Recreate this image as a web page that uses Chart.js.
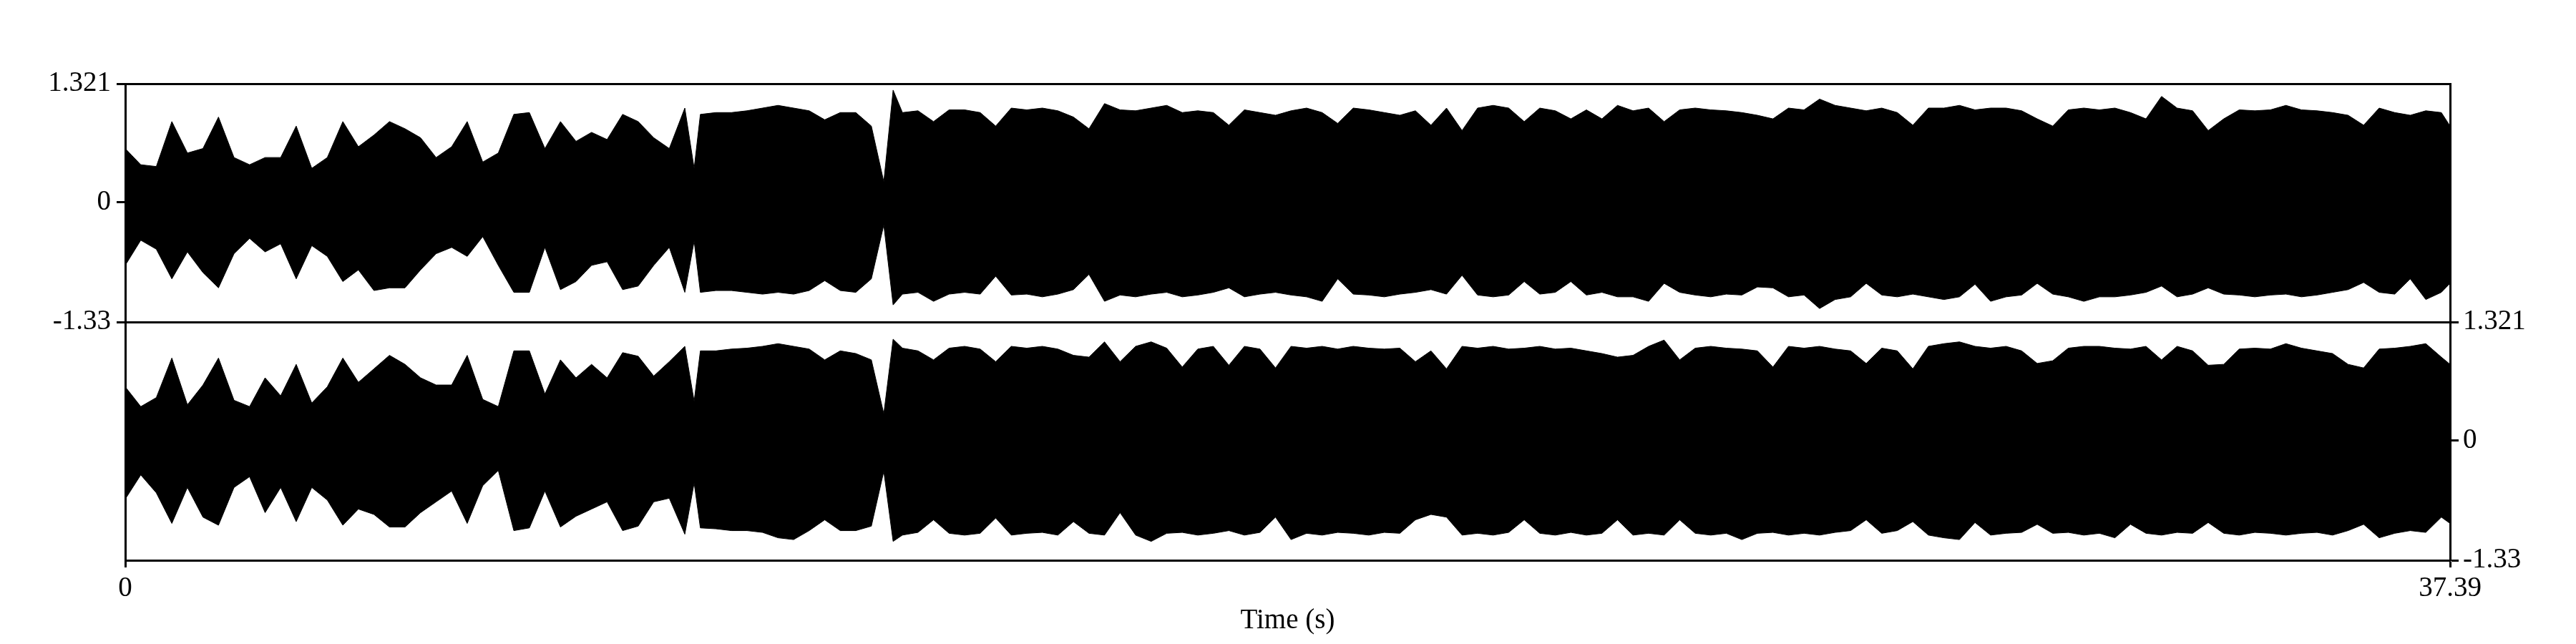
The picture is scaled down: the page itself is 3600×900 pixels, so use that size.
<!DOCTYPE html>
<html>
<head>
<meta charset="utf-8">
<script src="https://cdn.jsdelivr.net/npm/chart.js@4.4.1/dist/chart.umd.min.js"></script>
<style>
  html, body { margin: 0; padding: 0; background: #fff; }
  #wrap { width: 3600px; height: 900px; }
</style>
</head>
<body>
<div id="wrap"><canvas id="wave" width="3600" height="900"></canvas></div>
<script>
// Stereo waveform, Praat style: two channel boxes sharing one time axis.
// Envelopes (max / min per time step).

const times = [
  0, 0.25, 0.5, 0.75, 1, 1.25, 1.5, 1.75, 2, 2.25, 2.5, 2.75, 3, 3.25, 3.5, 3.75, 4, 4.25, 4.5, 4.75,
  5, 5.25, 5.5, 5.75, 6, 6.25, 6.5, 6.75, 7, 7.25, 7.5, 7.75, 8, 8.25, 8.5, 8.75, 9,
  9.15, 9.25, 9.5, 9.75, 10, 10.25, 10.5, 10.75, 11, 11.25, 11.5, 11.75, 12,
  12.2, 12.35,
  12.5, 12.75, 13, 13.25, 13.5, 13.75, 14, 14.25, 14.5, 14.75,
  15, 15.25, 15.5, 15.75, 16, 16.25, 16.5, 16.75, 17, 17.25,
  17.5, 17.75, 18, 18.25, 18.5, 18.75, 19, 19.25, 19.5, 19.75,
  20, 20.25, 20.5, 20.75, 21, 21.25, 21.5, 21.75, 22, 22.25,
  22.5, 22.75, 23, 23.25, 23.5, 23.75, 24, 24.25, 24.5, 24.75,
  25, 25.25, 25.5, 25.75, 26, 26.25, 26.5, 26.75, 27, 27.25,
  27.5, 27.75, 28, 28.25, 28.5, 28.75, 29, 29.25, 29.5, 29.75,
  30, 30.25, 30.5, 30.75, 31, 31.25, 31.5, 31.75, 32, 32.25,
  32.5, 32.75, 33, 33.25, 33.5, 33.75, 34, 34.25, 34.5, 34.75,
  35, 35.25, 35.5, 35.75, 36, 36.25, 36.5, 36.75, 37, 37.25,
  37.39
];

// channel 1 (upper box)
const topHi = [
  0.6, 0.42, 0.4, 0.9, 0.55, 0.6, 0.95, 0.5, 0.42, 0.5, 0.5, 0.85, 0.38, 0.5, 0.9, 0.62, 0.75, 0.9, 0.82, 0.72,
  0.5, 0.62, 0.9, 0.45, 0.55, 0.98, 1.0, 0.6, 0.9, 0.68, 0.78, 0.7, 0.98, 0.9, 0.72, 0.6, 1.05,
  0.38, 0.98, 1.0, 1.0, 1.02, 1.05, 1.08, 1.05, 1.02, 0.92, 1.0, 1.0, 0.85,
  0.23, 1.25,
  1.0, 1.02, 0.9, 1.03, 1.03, 1.0, 0.85, 1.05, 1.03, 1.05,
  1.02, 0.95, 0.82, 1.1, 1.03, 1.02, 1.05, 1.08, 1.0, 1.02,
  1.0, 0.86, 1.03, 1.0, 0.97, 1.02, 1.05, 1.0, 0.88, 1.05,
  1.03, 1.0, 0.97, 1.02, 0.86, 1.05, 0.8, 1.05, 1.08, 1.05,
  0.9, 1.05, 1.02, 0.93, 1.03, 0.93, 1.08, 1.02, 1.05, 0.9,
  1.03, 1.05, 1.03, 1.02, 1.0, 0.97, 0.93, 1.05, 1.03, 1.15,
  1.08, 1.05, 1.02, 1.05, 1.0, 0.86, 1.05, 1.05, 1.08, 1.03,
  1.05, 1.05, 1.02, 0.93, 0.85, 1.03, 1.05, 1.03, 1.05, 1.0,
  0.93, 1.18, 1.05, 1.02, 0.8, 0.93, 1.03, 1.02, 1.03, 1.08,
  1.03, 1.02, 1.0, 0.97, 0.86, 1.05, 1.0, 0.97, 1.02, 1.0,
  0.85
];
const topLo = [
  -0.7, -0.42, -0.52, -0.85, -0.55, -0.78, -0.95, -0.57, -0.4, -0.55, -0.46, -0.85, -0.48, -0.6, -0.88, -0.75, -0.98, -0.95, -0.95, -0.75,
  -0.57, -0.5, -0.6, -0.38, -0.7, -1.0, -1.0, -0.5, -0.97, -0.88, -0.7, -0.66, -0.97, -0.93, -0.7, -0.5, -1.0,
  -0.43, -1.0, -0.98, -0.98, -1.0, -1.02, -1.0, -1.02, -0.98, -0.87, -0.98, -1.0, -0.85,
  -0.25, -1.14,
  -1.02, -1.0, -1.1, -1.02, -1.0, -1.02, -0.82, -1.03, -1.02, -1.05,
  -1.02, -0.97, -0.8, -1.1, -1.03, -1.05, -1.02, -1.0, -1.05, -1.03,
  -1.0, -0.95, -1.05, -1.02, -1.0, -1.03, -1.05, -1.1, -0.85, -1.02,
  -1.03, -1.05, -1.02, -1.0, -0.97, -1.02, -0.81, -1.03, -1.05, -1.03,
  -0.88, -1.02, -1.0, -0.88, -1.03, -1.0, -1.05, -1.05, -1.1, -0.9,
  -1.0, -1.03, -1.05, -1.02, -1.03, -0.94, -0.95, -1.05, -1.03, -1.18,
  -1.08, -1.05, -0.9, -1.03, -1.05, -1.02, -1.05, -1.08, -1.05, -0.91,
  -1.1, -1.05, -1.03, -0.9, -1.02, -1.05, -1.1, -1.05, -1.05, -1.03,
  -1.0, -0.93, -1.05, -1.02, -0.95, -1.02, -1.03, -1.05, -1.03, -1.02,
  -1.05, -1.03, -1.0, -0.97, -0.89, -1.0, -1.02, -0.85, -1.08, -1.0,
  -0.9
];

// channel 2 (lower box)
const botHi = [
  0.6, 0.38, 0.48, 0.92, 0.4, 0.62, 0.92, 0.45, 0.38, 0.7, 0.5, 0.85, 0.42, 0.6, 0.92, 0.65, 0.8, 0.95, 0.85, 0.7,
  0.62, 0.62, 0.95, 0.46, 0.38, 1.0, 1.0, 0.52, 0.9, 0.7, 0.85, 0.7, 0.98, 0.94, 0.72, 0.88, 1.05,
  0.44, 1.0, 1.0, 1.02, 1.03, 1.05, 1.08, 1.05, 1.02, 0.9, 1.0, 0.97, 0.9,
  0.3, 1.13,
  1.03, 1.0, 0.9, 1.03, 1.05, 1.02, 0.88, 1.05, 1.03, 1.05,
  1.02, 0.95, 0.93, 1.1, 0.88, 1.05, 1.1, 1.03, 0.82, 1.02,
  1.05, 0.84, 1.05, 1.02, 0.81, 1.05, 1.03, 1.05, 1.02, 1.05,
  1.03, 1.02, 1.03, 0.88, 1.0, 0.8, 1.05, 1.03, 1.05, 1.02,
  1.03, 1.05, 1.02, 1.03, 1.0, 0.97, 0.93, 0.95, 1.05, 1.12,
  0.9, 1.03, 1.05, 1.03, 1.02, 1.0, 0.82, 1.05, 1.03, 1.05,
  1.02, 1.0, 0.86, 1.03, 1.0, 0.8, 1.05, 1.08, 1.1, 1.05,
  1.03, 1.05, 1.0, 0.86, 0.89, 1.03, 1.05, 1.05, 1.03, 1.02,
  1.05, 0.9, 1.05, 1.0, 0.84, 0.85, 1.02, 1.03, 1.02, 1.08,
  1.03, 1.0, 0.97, 0.85, 0.81, 1.02, 1.03, 1.05, 1.08, 0.93,
  0.85
];
const botLo = [
  -0.65, -0.38, -0.58, -0.92, -0.52, -0.85, -0.94, -0.52, -0.4, -0.8, -0.52, -0.9, -0.52, -0.66, -0.94, -0.76, -0.82, -0.96, -0.96, -0.8,
  -0.68, -0.56, -0.92, -0.5, -0.33, -1.0, -0.97, -0.56, -0.96, -0.84, -0.76, -0.68, -1.0, -0.95, -0.68, -0.64, -1.04,
  -0.47, -0.97, -0.98, -1.0, -1.0, -1.02, -1.08, -1.1, -1.0, -0.88, -1.0, -1.0, -0.95,
  -0.34, -1.12,
  -1.05, -1.02, -0.88, -1.03, -1.05, -1.03, -0.86, -1.05, -1.03, -1.02,
  -1.05, -0.9, -1.03, -1.05, -0.8, -1.05, -1.12, -1.03, -1.02, -1.05,
  -1.03, -1.0, -1.05, -1.02, -0.85, -1.1, -1.03, -1.05, -1.02, -1.03,
  -1.05, -1.02, -1.03, -0.88, -0.82, -0.85, -1.05, -1.03, -1.05, -1.02,
  -0.88, -1.03, -1.05, -1.02, -1.05, -1.03, -0.88, -1.05, -1.03, -1.05,
  -0.88, -1.03, -1.05, -1.03, -1.1, -1.03, -1.02, -1.05, -1.03, -1.05,
  -1.02, -1.0, -0.88, -1.03, -1.0, -0.9, -1.05, -1.08, -1.1, -0.91,
  -1.05, -1.03, -1.02, -0.93, -1.03, -1.02, -1.05, -1.03, -1.08, -0.93,
  -1.03, -1.05, -1.02, -1.03, -0.91, -1.03, -1.05, -1.02, -1.03, -1.05,
  -1.03, -1.02, -1.05, -1.0, -0.93, -1.08, -1.03, -1.0, -1.02, -0.85,
  -0.92
];

const yTicks = [1.321, 0, -1.33];
const yTickLabels = ['1.321', '0', '-1.33'];
const xTicks = [0, 37.39];
const xTickLabels = ['0', '37.39'];

const Y_MAX = 1.321, Y_MIN = -1.33, SPAN = Y_MAX - Y_MIN;
const AREA = { left: 175, right: 3424, top: 117, bottom: 783 };
const FONT = { family: "'Liberation Serif', 'Times New Roman', serif", size: 39 };

const pts = (vals) => vals.map((v, i) => ({ x: times[i], y: v }));

const band = (hi, lo, axis) => [
  { data: pts(hi), yAxisID: axis, fill: '+1', backgroundColor: '#000', borderColor: '#000',
    borderWidth: 1, pointRadius: 0, tension: 0 },
  { data: pts(lo), yAxisID: axis, fill: false, backgroundColor: '#000', borderColor: '#000',
    borderWidth: 1, pointRadius: 0, tension: 0 },
];

const setTicks = (vals) => (scale) => { scale.ticks = vals.map(v => ({ value: v })); };

new Chart(document.getElementById('wave'), {
  type: 'line',
  data: { datasets: [...band(topHi, topLo, 'yTop'), ...band(botHi, botLo, 'yBot')] },
  options: {
    responsive: false,
    animation: false,
    layout: { padding: { top: AREA.top, left: 0, right: 0, bottom: 0 } },
    plugins: { legend: { display: false }, tooltip: { enabled: false } },
    scales: {
      x: {
        type: 'linear', min: 0, max: 37.39,
        afterBuildTicks: setTicks(xTicks),
        afterFit: (s) => { s.height = 900 - AREA.bottom; },
        ticks: { callback: (v, i) => xTickLabels[i], font: FONT, color: '#000', padding: 6,
                 maxRotation: 0, autoSkip: false },
        grid: { drawOnChartArea: false, drawTicks: true, tickLength: 10, tickWidth: 3, tickColor: '#000' },
        border: { display: true, color: '#000', width: 3 },
        title: { display: true, text: 'Time (s)', font: FONT, color: '#000', padding: { top: 0, bottom: 9 } },
      },
      yTop: {
        type: 'linear', position: 'left', min: Y_MIN - SPAN, max: Y_MAX,
        afterBuildTicks: setTicks(yTicks),
        afterFit: (s) => { s.width = AREA.left; },
        ticks: { callback: (v, i) => yTickLabels[i], font: FONT, color: '#000', padding: 8, autoSkip: false },
        grid: {
          color: (c) => (c.tick && c.tick.value === 0) ? 'rgba(0,0,0,0)' : '#000',
          lineWidth: 3, tickLength: 12, tickWidth: 3, tickColor: '#000',
        },
        border: { display: true, color: '#000', width: 3 },
      },
      yBot: {
        type: 'linear', position: 'right', min: Y_MIN, max: Y_MAX + SPAN,
        afterBuildTicks: setTicks(yTicks),
        afterFit: (s) => { s.width = 3600 - AREA.right; },
        ticks: { callback: (v, i) => yTickLabels[i], font: FONT, color: '#000', padding: 6, autoSkip: false },
        grid: { drawOnChartArea: false, tickLength: 12, tickWidth: 3, tickColor: '#000' },
        border: { display: true, color: '#000', width: 3 },
      },
    },
  },
});
</script>
</body>
</html>
